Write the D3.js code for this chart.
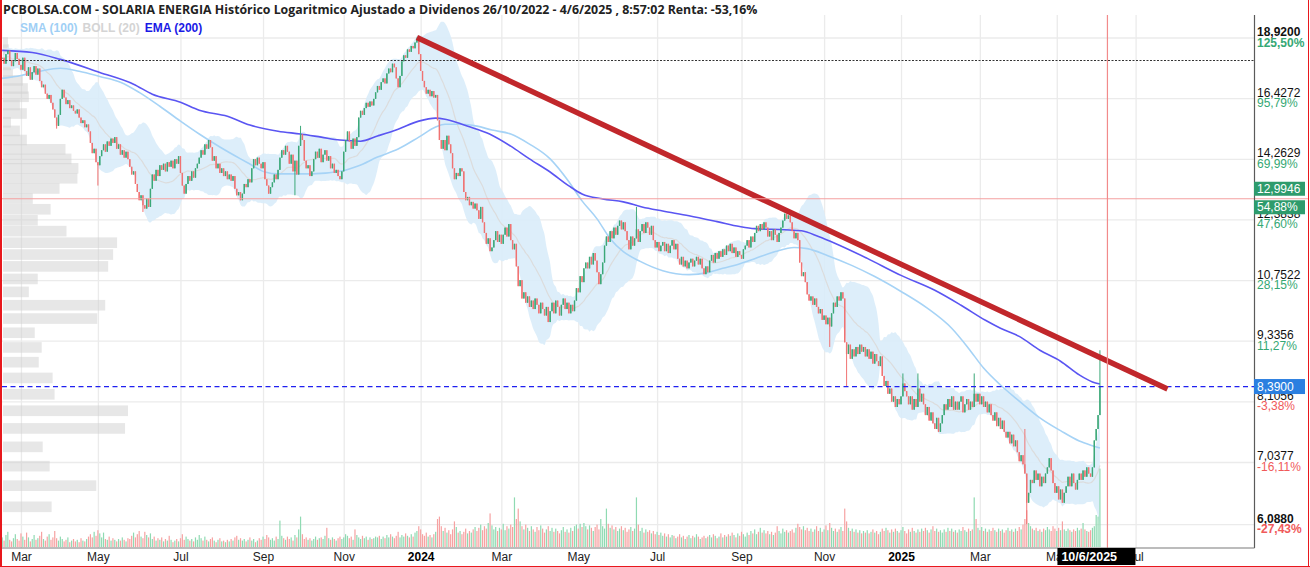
<!DOCTYPE html>
<html><head><meta charset="utf-8">
<script src="https://cdn.jsdelivr.net/npm/d3@7"></script>
<style>
html,body{margin:0;padding:0;background:#fff;}
svg{display:block;}
</style></head><body>
<svg id="c" width="1310" height="567"></svg>
<script>
// ---------------- DATA ----------------
const lastDate = '2025-06-04';
const closes = [
18.05,17.80,18.20,18.35,17.95,17.70,17.90,18.25,18.00,17.75,
17.55,18.05,17.50,17.30,17.65,17.15,17.45,17.70,17.35,17.60,
17.10,16.85,16.95,16.60,16.40,16.55,16.25,
16.00,15.70,15.40,15.80,
16.40,16.75,
16.45,16.20,16.35,16.05,16.15,15.95,15.85,16.00,15.70,
15.50,15.60,15.35,15.45,15.20,
14.80,14.45,14.60,14.15,14.05,14.35,
14.55,14.75,14.50,14.85,14.70,14.95,14.80,15.00,
14.60,14.75,14.40,14.55,14.30,14.50,14.25,
14.00,13.75,13.85,13.45,13.20,
12.95,13.10,12.80,12.70,13.00,12.75,
13.30,13.75,13.55,13.90,13.70,14.05,
13.90,14.10,13.85,14.15,14.00,14.20,13.95,14.25,14.10,14.35,
13.80,13.40,13.15,
13.45,13.70,13.55,13.85,13.65,13.95,14.10,
14.30,14.55,14.40,14.75,14.60,14.90,14.65,
14.20,14.35,13.95,14.10,13.80,13.95,13.70,
13.85,13.60,13.75,13.55,13.70,
13.30,13.10,13.20,12.95,13.15,
13.45,13.35,13.60,13.50,
13.95,14.25,14.05,14.30,14.10,13.95,14.15,
13.60,13.40,13.15,13.35,13.50,
13.75,13.60,13.90,
14.30,14.55,14.40,14.70,14.50,
14.10,14.40,13.85,14.20,13.75,
14.70,15.10,14.90,
14.20,13.95,14.05,13.70,13.85,
14.25,14.50,14.30,14.60,14.15,14.40,14.55,14.20,14.35,
13.95,14.10,13.80,13.90,13.70,13.60,13.85,
14.50,14.90,15.20,
14.85,14.60,14.95,14.70,15.00,
15.70,15.95,15.80,
16.05,16.25,16.10,16.30,16.15,16.40,
16.65,16.90,16.75,17.05,17.20,17.00,
17.40,17.60,17.45,17.80,17.65,
17.20,16.85,17.30,
17.90,18.15,18.05,18.40,18.30,
18.55,18.45,18.70,18.85,
18.20,17.50,17.10,
16.85,16.60,16.75,16.50,16.70,16.45,16.55,
15.60,14.90,14.60,
14.90,14.55,15.05,14.75,14.45,
13.95,13.60,13.80,
13.70,13.95,13.85,
13.20,12.95,13.05,12.80,12.90,12.70,12.85,12.65,
12.40,12.75,12.30,
12.00,11.70,11.85,11.50,11.60,
11.80,12.05,11.75,11.95,11.70,
11.95,12.15,11.90,12.25,
11.80,11.55,11.70,
11.10,10.60,10.75,10.30,
10.45,10.20,10.35,10.10,10.25,10.05,10.30,10.15,9.95,10.20,10.05,9.90,10.10,9.75,
10.00,10.20,9.95,10.25,10.10,9.90,10.15,10.30,10.05,10.20,9.95,10.15,10.00,10.25,
10.55,10.45,10.85,10.70,11.05,
11.20,11.05,11.35,11.15,11.45,11.25,
10.95,10.65,10.90,11.20,
11.65,11.90,11.75,12.05,11.85,12.15,11.95,
12.20,12.35,12.10,12.30,12.05,
11.80,11.55,11.90,11.65,11.85,
12.10,11.75,
12.05,12.25,12.00,12.30,12.15,11.95,12.20,
11.80,11.60,11.75,11.50,11.65,
11.75,11.50,11.70,11.45,11.65,11.80,11.55,11.70,
11.30,11.15,11.35,11.10,11.25,11.05,11.20,
11.30,11.10,11.25,11.35,11.15,11.30,
11.05,10.90,11.10,10.95,
11.25,11.40,11.20,11.45,11.30,11.50,11.35,
11.55,11.40,11.65,11.50,11.70,11.45,11.60,11.35,11.50,
11.40,11.30,11.55,
11.65,11.80,11.60,11.90,11.75,12.00,12.20,
12.05,12.25,12.10,12.30,12.15,
11.90,12.05,11.80,12.10,11.95,11.75,12.00,12.15,
12.35,12.55,12.40,12.50,12.30,
12.05,11.85,12.00,11.80,
11.20,10.85,10.95,10.70,
10.40,10.25,10.35,10.15,10.30,10.10,
9.95,10.05,9.80,9.90,9.70,9.85,9.65,
9.95,10.20,10.10,10.35,10.25,10.45,10.30,
9.30,9.05,
9.25,8.95,9.15,9.00,
9.20,9.05,9.25,9.10,9.20,9.00,9.15,
8.95,9.10,8.85,9.05,8.90,8.80,9.00,
8.60,8.40,8.50,8.25,8.35,
8.10,8.20,8.00,8.15,8.05,8.20,
8.45,8.30,8.20,
8.05,8.20,7.95,8.15,8.00,
8.35,8.10,8.25,8.05,
7.85,8.00,7.75,7.90,7.70,
7.60,7.80,7.55,7.70,7.85,
8.05,7.95,8.15,8.00,8.20,7.95,8.10,
7.95,8.10,8.20,7.90,8.05,8.15,7.95,8.10,8.00,
8.25,
8.10,8.25,8.05,8.20,8.00,
8.10,7.90,8.05,7.85,
7.75,7.90,7.65,7.80,7.60,7.75,7.55,
7.45,7.55,7.35,7.50,7.30,7.40,
7.20,7.05,7.15,7.00,
6.85,6.40,
6.55,6.75,6.70,6.90,6.75,6.85,6.65,6.80,6.70,6.85,
6.95,7.10,6.90,
6.70,6.55,6.65,6.45,6.60,6.40,6.55,6.65,
6.80,6.65,6.85,6.70,6.60,6.75,6.85,
6.75,6.90,6.80,6.95,6.85,6.80,6.95,
7.40,7.60,
7.85,
8.39];
// notable wicks: [bar index, high, low]
const wicks = [[29,null,15.30],[51,null,13.40],[75,null,12.60],[156,null,13.10],[159,15.40,null],
  [221,18.92,null],[338,12.75,null],[441,null,9.20],[450,null,8.40],[480,8.65,null],[488,8.65,null],
  [518,8.65,null],[545,7.60,null],[546,null,6.09],[585,9.13,null]];
// volume, millions
const volumes = [
1.2,0.8,1.5,1.9,0.9,0.7,1.1,1.6,1.0,0.8, 1.7,1.3,0.9,1.8,1.2,0.7,1.0,1.5,0.9,1.1, 1.4,1.9,1.0,0.8,1.3,1.6,0.9,1.2,2.0,1.1, 0.8,1.3,1.0,0.7,0.9,1.2,0.6,0.8,1.0,0.7, 0.9,0.6,1.1,0.8,0.7,1.0,1.3,1.6,1.2,1.9,
1.4,2.1,1.7,1.2,1.8,1.0,0.9,1.3,0.8,1.1, 0.9,0.7,1.0,0.8,1.2,0.9,0.7,1.1,1.0,1.4, 1.8,1.2,1.6,2.0,1.3,1.1,1.9,1.5,1.2,1.7, 1.0,1.3,0.8,1.1,0.9,1.2,0.7,1.0,0.8,1.4, 0.9,0.6,0.8,1.0,0.7,1.1,1.6,0.9,1.3,1.0,
0.8,1.0,0.7,1.2,0.9,1.5,1.1,0.8,1.3,0.9, 0.7,1.0,1.2,0.8,0.6,0.9,1.1,0.7,0.8,0.6, 0.9,0.7,1.0,0.8,1.2,1.4,0.9,1.1,0.8,1.0, 0.7,0.9,1.2,0.8,1.0,0.6,0.8,1.1,0.9,1.3, 1.0,1.5,1.2,0.9,1.1,0.8,1.3,1.0,3.3,1.4,
1.1,0.9,1.3,1.0,1.2,0.8,1.5,1.2,2.2,3.8, 1.6,1.0,1.2,0.9,1.1,0.8,1.0,1.3,0.9,1.1, 1.2,1.0,1.4,2.4,1.1,0.9,1.2,1.0,0.8,1.1, 1.3,1.0,1.2,1.6,1.4,1.1,1.3,0.9,2.2,1.5, 1.2,1.0,1.4,1.1,1.3,0.9,1.2,1.0,1.1,1.3,
1.2,1.4,1.0,1.3,1.1,1.5,1.2,1.6,1.3,1.1, 1.4,1.9,1.2,1.5,1.3,1.7,1.4,1.2,1.6,1.3, 1.8,2.0,2.6,2.2,1.6,1.4,1.8,1.3,1.5,1.2, 1.6,1.9,3.5,3.8,2.6,2.0,2.4,1.8,2.1,1.6, 2.2,3.2,2.5,1.8,2.0,1.6,1.9,2.3,1.7,2.0,
1.8,2.2,2.5,2.0,2.4,2.8,2.1,2.6,2.3,3.0, 4.2,2.7,2.2,2.5,2.0,2.4,2.2,2.9,2.1,2.6, 2.3,2.8,2.5,6.2,3.5,4.8,3.2,2.6,2.2,2.8, 2.4,2.0,2.6,2.2,1.9,2.5,2.1,2.7,2.3,1.8, 2.2,2.6,2.0,2.4,1.9,2.3,2.0,1.7,2.1,2.5,
1.9,2.2,1.8,2.4,2.0,2.6,2.8,2.3,2.9,2.5, 3.0,2.6,2.2,2.7,2.4,2.0,2.5,2.8,2.2,3.5, 2.6,2.3,4.8,2.9,2.4,2.7,2.2,2.5,2.0,2.3, 2.6,2.1,2.4,1.9,2.2,2.5,2.0,2.3,6.2,2.8, 2.0,2.4,1.8,2.2,1.9,2.1,1.7,2.0,1.6,1.9,
1.5,1.8,1.4,1.7,1.3,1.6,1.2,1.5,1.4,1.1, 1.3,1.6,1.2,1.4,1.0,1.3,1.5,1.1,1.4,1.2, 1.6,1.3,1.0,1.2,1.4,1.1,1.3,1.5,1.2,1.6, 1.4,1.1,1.3,1.7,1.2,1.5,1.3,1.6,1.4,1.8, 1.5,1.2,1.7,1.4,1.9,1.6,1.3,1.8,1.5,2.0,
1.7,2.2,1.6,1.9,2.4,1.8,2.1,1.7,2.0,1.6, 1.9,1.5,1.8,2.6,2.0,1.7,2.3,1.9,2.1,1.8, 2.0,2.2,1.8,2.4,2.9,2.5,2.2,2.6,2.1,2.4, 2.0,2.3,1.9,2.2,2.6,2.0,2.4,1.9,2.2,2.7, 2.1,3.0,2.4,2.0,2.3,1.9,2.2,2.5,2.0,4.8,
3.2,2.4,2.0,2.3,1.9,2.2,1.8,2.1,1.7,2.0, 1.8,2.1,1.7,1.9,2.2,1.8,2.0,1.6,1.9,2.3, 2.0,2.4,2.1,1.8,2.2,1.9,2.3,2.0,1.8,2.1, 2.5,2.0,1.7,2.2,1.9,2.4,2.0,1.8,2.2,1.9, 2.3,2.0,2.4,2.1,1.8,2.2,2.6,2.0,2.3,1.9,
2.1,1.8,2.2,1.9,2.4,2.0,2.3,1.9,2.1,1.8, 2.2,2.0,2.5,2.1,1.9,2.3,2.0,2.2,6.2,3.5, 2.4,2.1,2.5,2.0,2.3,1.9,2.2,2.0,2.4,2.1, 1.9,2.3,2.0,2.2,1.8,2.1,2.4,2.0,2.2,1.9, 2.3,2.0,2.5,2.2,2.8,3.5,4.6,3.0,2.6,2.3,
2.1,2.4,2.0,2.2,1.9,2.3,2.1,2.5,2.2,2.0, 2.6,2.3,2.0,2.4,2.1,3.2,2.2,2.0,2.3,2.1, 1.9,2.2,2.0,2.4,2.1,2.3,3.0,2.2,2.0,1.9, 2.1,2.4,2.6,4.0,3.8,9.8];
// SMA(100) and EMA(200): [bar index], [value]
const smaIdx = [0,10,20,31,41,52,63,73,84,95,105,116,127,132,140,147,165,181,190,200,211,222,231,236,245,253,261,271,281,292,302,309,317,324,331,340,352,366,376,384,392,401,412,422,429,440,453,465,479,493,506,515,523,532,542,553,564,574,581,585];
const smaVal = [17.20,17.32,17.49,17.61,17.49,17.28,17.05,16.65,16.12,15.57,15.11,14.66,14.26,14.09,13.83,13.77,13.77,13.86,14.03,14.32,14.59,15.00,15.36,15.46,15.46,15.39,15.25,15.11,14.76,14.26,13.52,12.93,12.40,11.84,11.49,11.23,10.99,10.89,10.94,11.05,11.15,11.30,11.49,11.60,11.57,11.38,11.12,10.84,10.47,10.07,9.61,9.17,8.76,8.42,8.11,7.80,7.57,7.39,7.31,7.27];
const emaIdx = [0,16,31,52,70,80,95,105,120,132,147,159,170,180,191,200,211,222,231,236,245,253,261,271,281,292,302,309,320,331,341,352,366,381,393,401,417,426,435,444,461,479,497,511,524,532,542,553,564,574,581,585];
const emaVal = [18.36,18.27,17.98,17.44,16.97,16.58,16.27,15.97,15.75,15.43,15.21,15.11,15.00,14.90,14.86,15.04,15.28,15.57,15.68,15.64,15.46,15.28,15.07,14.69,14.26,13.83,13.39,13.14,12.99,12.90,12.75,12.63,12.49,12.32,12.18,12.12,12.09,12.06,11.90,11.71,11.31,10.87,10.50,10.14,9.79,9.61,9.43,9.13,8.90,8.62,8.48,8.44];
// volume profile: price bins and relative volume
const profilePrice = [6.34,6.66,6.97,7.29,7.61,7.93,8.24,8.56,8.88,9.19,9.51,9.83,10.14,10.46,10.78,11.10,11.41,11.73,12.05,12.36,12.68,13.00,13.31,13.63,13.95,14.26,14.58,14.90,15.22,15.53,15.85,16.17,16.48,16.80,17.12,17.43,17.75,18.07,18.39,18.70];
const profileVol   = [49,94,47,40,123,126,52,50,36,39,32,95,103,26,35,106,111,115,64,35,48,30,57,75,76,69,63,24,17,8,24,17,26,25,20,10,8,12,6,5];
// axis
const yTicks = [18.92,16.4272,14.2629,12.3838,10.7522,9.3356,8.1056,7.0377,6.088];
const yTickLabels = ['18,9200','16,4272','14,2629','12,3838','10,7522','9,3356','8,1056','7,0377','6,0880'];
const yPctLabels = ['125,50%','95,79%','69,99%','47,60%','28,15%','11,27%','-3,38%','-16,11%','-27,43%'];
const monthKeys = ['2023-03','2023-05','2023-07','2023-09','2023-11','2024-01','2024-03','2024-05','2024-07','2024-09','2024-11','2025-01','2025-03','2025-05','2025-07'];
const monthLabels = ['Mar','May','Jul','Sep','Nov','2024','Mar','May','Jul','Sep','Nov','2025','Mar','May','Jul'];
const holidays = ['2023-04-07','2023-04-10','2023-05-01','2023-12-25','2023-12-26','2024-01-01','2024-03-29','2024-04-01','2024-05-01','2024-12-25','2024-12-26','2025-01-01','2025-04-18','2025-04-21','2025-05-01'];
// levels / annotations
const lastPrice = 8.39, lastPriceLabel = '8,3900';
const maxLevel = 17.94;
const cursorPrice = 12.9946, cursorPriceLabel = '12,9946', cursorPctLabel = '54,88%';
const cursorDate = '2025-06-10', cursorDateLabel = '10/6/2025';
const trendDates = ['2023-12-28','2025-07-24'], trendPrices = [18.92, 8.34];
const titleText = 'PCBOLSA.COM - SOLARIA ENERGIA Histórico Logaritmico Ajustado a Dividenos 26/10/2022 - 4/6/2025 , 8:57:02 Renta: -53,16%';
const legendItems = ['SMA (100)','BOLL (20)','EMA (200)'];

// ---------------- CHART ----------------
const FONT = "'Liberation Sans', Arial, sans-serif";
const P = {left:2, right:1254.5, top:15, bottom:548};
const svg = d3.select('#c');
svg.append('rect').attr('width',1310).attr('height',567).attr('fill','#fff');

const hol = new Set(holidays);
const days = [];
for (let t = Date.UTC(2022,9,26); t <= Date.UTC(2025,9,31); t += 86400000) {
  const d = new Date(t), wd = d.getUTCDay(), s = d.toISOString().slice(0,10);
  if (wd !== 0 && wd !== 6 && !hol.has(s)) days.push(s);
}
const first = days.indexOf(lastDate) - closes.length + 1;
const di = s => days.indexOf(s) - first;
const firstOfMonth = k => days.findIndex(s => s.startsWith(k)) - first;

const x = d3.scaleLinear().domain([0, 667]).range([2.2, 1253.8]);
const y = d3.scaleLog().domain([6.088, 18.92]).range([524.2, 37.5]);
const yv = d3.scaleLinear().domain([0, 10]).range([547, 467]);
const pw = d3.scaleLinear().domain([0, d3.max(profileVol)]).range([0, 125]);
const crisp = v => Math.round(v) + 0.5;

const defs = svg.append('defs');
defs.append('clipPath').attr('id','clip').append('rect')
  .attr('x',P.left).attr('y',P.top).attr('width',P.right-P.left).attr('height',P.bottom-P.top);

// grid
const monthIdx = monthKeys.map(firstOfMonth);
const gGrid = svg.append('g');
gGrid.append('g').attr('transform',`translate(${P.right},0)`)
  .call(d3.axisLeft(y).tickValues(yTicks).tickSize(P.right-P.left).tickFormat(''))
  .call(g=>{g.select('.domain').remove(); g.selectAll('line').attr('stroke','#ebebeb').attr('stroke-width',1.3);});
gGrid.append('g').attr('transform',`translate(0,${P.bottom})`)
  .call(d3.axisTop(x).tickValues(monthIdx).tickSize(P.bottom-P.top).tickFormat(''))
  .call(g=>{g.select('.domain').remove(); g.selectAll('line').attr('stroke','#ebebeb').attr('stroke-width',1.3);});

const plot = svg.append('g').attr('clip-path','url(#clip)');

// volume profile
plot.append('g').selectAll('rect').data(profilePrice).join('rect')
  .attr('x', 3).attr('y', d => y(d) - 5.3).attr('height', 10.6)
  .attr('width', (d,i) => pw(profileVol[i]))
  .attr('fill', '#cfcfcf').attr('fill-opacity', 0.5);

// bollinger
const boll = closes.map((c,i) => {
  const w = closes.slice(Math.max(0,i-19), i+1);
  const m = d3.mean(w);
  const sd = Math.sqrt(d3.mean(w, v => (v-m)*(v-m)));
  return {i, m, hi: m + 2*sd, lo: m - 2*sd};
}).slice(1);
plot.append('path').datum(boll)
  .attr('d', d3.area().x(d=>x(d.i)).y0(d=>y(d.lo)).y1(d=>y(d.hi)).curve(d3.curveMonotoneX))
  .attr('fill', '#d9ecfa').attr('fill-opacity', 0.9);
plot.append('path').datum(boll)
  .attr('d', d3.line().x(d=>x(d.i)).y(d=>y(d.m)).curve(d3.curveMonotoneX))
  .attr('fill','none').attr('stroke','#dcdcdc').attr('stroke-width',1.2);

// sma / ema
plot.append('path').datum(smaIdx.map((d,i)=>[d,smaVal[i]]))
  .attr('d', d3.line().x(d=>x(d[0])).y(d=>y(d[1])).curve(d3.curveMonotoneX))
  .attr('fill','none').attr('stroke','#a6d3f6').attr('stroke-width',1.6);
plot.append('path').datum(emaIdx.map((d,i)=>[d,emaVal[i]]))
  .attr('d', d3.line().x(d=>x(d[0])).y(d=>y(d[1])).curve(d3.curveMonotoneX))
  .attr('fill','none').attr('stroke','#5a55f2').attr('stroke-width',1.6);

// bars data
const wk = new Map(wicks.map(w => [w[0], w]));
const bars = closes.map((c,i) => {
  const o = i > 0 ? closes[i-1] : c;
  let h = Math.max(o,c), l = Math.min(o,c);
  if (wk.has(i)) { const w = wk.get(i); if (w[1] != null) h = w[1]; if (w[2] != null) l = w[2]; }
  return {i, o, c, h, l, up: c >= o, v: volumes[i]};
});

// volume bars
plot.append('g').selectAll('rect').data(bars).join('rect')
  .attr('x', d => x(d.i) - 0.6).attr('width', 1.2)
  .attr('y', d => yv(d.v)).attr('height', d => yv(0) - yv(d.v))
  .attr('fill', d => d.up ? '#8fdab2' : '#f6a2a2');

// candles
const gc = plot.append('g');
gc.selectAll('line').data(bars).join('line')
  .attr('x1', d => x(d.i)).attr('x2', d => x(d.i))
  .attr('y1', d => y(d.h)).attr('y2', d => y(d.l))
  .attr('stroke', d => d.up ? '#3ba878' : '#f07272').attr('stroke-width', 1);
gc.selectAll('rect').data(bars).join('rect')
  .attr('x', d => x(d.i) - 0.7).attr('width', 1.4)
  .attr('y', d => y(Math.max(d.o,d.c)))
  .attr('height', d => Math.max(1, y(Math.min(d.o,d.c)) - y(Math.max(d.o,d.c))))
  .attr('fill', d => d.up ? '#3ba878' : '#f07272');

// level lines
plot.append('line').attr('x1',P.left).attr('x2',P.right).attr('y1',crisp(y(maxLevel))).attr('y2',crisp(y(maxLevel)))
  .attr('stroke','#333').attr('stroke-width',1).attr('stroke-dasharray','2,1.5');
plot.append('line').attr('x1',P.left).attr('x2',P.right).attr('y1',y(lastPrice)).attr('y2',y(lastPrice))
  .attr('stroke','#2020f0').attr('stroke-width',1.3).attr('stroke-dasharray','5,3.5');
svg.append('line').attr('x1',P.left).attr('x2',1308).attr('y1',y(cursorPrice)).attr('y2',y(cursorPrice))
  .attr('stroke','#f4a0a0').attr('stroke-width',1.2);

// trend line
plot.append('line')
  .attr('x1', x(di(trendDates[0]))).attr('y1', y(trendPrices[0]))
  .attr('x2', x(di(trendDates[1]))).attr('y2', y(trendPrices[1]))
  .attr('stroke','#c1272b').attr('stroke-width',5.5);

// crosshair vertical
const cx = x(di(cursorDate));
svg.append('line').attr('x1',cx).attr('x2',cx).attr('y1',P.top).attr('y2',P.bottom)
  .attr('stroke','#f28b8b').attr('stroke-width',1.2);

// axes lines
svg.append('line').attr('x1',P.right).attr('x2',P.right).attr('y1',P.top).attr('y2',P.bottom).attr('stroke','#5a5a5a').attr('stroke-width',1.2);
svg.append('line').attr('x1',P.left).attr('x2',P.right).attr('y1',P.bottom).attr('y2',P.bottom).attr('stroke','#7a7a7a').attr('stroke-width',1.2);

// right axis labels (two-line: price + percent)
const gy = svg.append('g').attr('font-family',FONT).attr('font-size',12);
yTicks.forEach((v,i) => {
  const bold = (i===0 || i===yTicks.length-1) ? 'bold' : 'normal';
  const tx = gy.append('text').attr('x',1257).attr('y',y(v)-1.5).attr('font-weight',bold);
  tx.append('tspan').attr('x',1257).attr('fill','#111').text(yTickLabels[i]);
  tx.append('tspan').attr('x',1257).attr('dy',10.5)
    .attr('fill', yPctLabels[i].startsWith('-') ? '#f05a5a' : '#35a874').text(yPctLabels[i]);
});
// right boxes
function box(yTop, h, fill, txt){
  svg.append('rect').attr('x',1254).attr('y',yTop).attr('width',51).attr('height',h).attr('fill',fill);
  svg.append('text').attr('x',1257).attr('y',yTop+h-3).attr('fill','#fff').attr('font-family',FONT).attr('font-size',12).text(txt);
}
box(y(cursorPrice)-17, 14, '#2e9b6c', cursorPriceLabel);
box(y(cursorPrice)+1.5, 14, '#2e9b6c', cursorPctLabel);
box(y(lastPrice)-7.5, 15, '#2b7fe0', lastPriceLabel);

// bottom axis labels
const gx = svg.append('g').attr('transform',`translate(0,${P.bottom})`)
  .call(d3.axisBottom(x).tickValues(monthIdx).tickSize(0).tickPadding(4).tickFormat((d,i)=>monthLabels[i]));
gx.select('.domain').remove();
gx.selectAll('text').attr('font-family',FONT).attr('font-size',12)
  .attr('font-weight',(d,i)=>/^\d/.test(monthLabels[i])?'bold':'normal')
  .attr('fill',(d,i)=>/^\d/.test(monthLabels[i])?'#000':'#222');
// date box
svg.append('rect').attr('x',cx-50).attr('y',P.bottom).attr('width',78).attr('height',17).attr('fill','#000');
svg.append('text').attr('x',cx-46).attr('y',P.bottom+13).attr('fill','#fff').attr('font-family',FONT)
  .attr('font-size',12.5).attr('font-weight','bold').text(cursorDateLabel);

// title
const t = svg.append('text').attr('x',3).attr('y',14).attr('font-family',"'Open Sans', sans-serif")
  .attr('font-weight','bold').attr('font-size',12).attr('fill','#222').text(titleText);
const tw = t.node().getComputedTextLength();
t.attr('font-size', 12 * 755 / tw);

// legend
const legendColors = ['#9fcff5','#d4d4d4','#1a1ae6'];
let lx = 20;
legendItems.forEach((s,i) => {
  const tt = svg.append('text').attr('x',lx).attr('y',32).attr('font-family',FONT).attr('font-size',12)
    .attr('font-weight','bold').attr('fill',legendColors[i]).text(s);
  lx += tt.node().getComputedTextLength() + 5;
});

// frame
svg.append('rect').attr('x',0).attr('y',0).attr('width',2).attr('height',567).attr('fill','#e8181d');
svg.append('line').attr('x1',1308.5).attr('x2',1308.5).attr('y1',0).attr('y2',567).attr('stroke','#e8181d');
svg.append('line').attr('x1',0).attr('x2',1310).attr('y1',566.5).attr('y2',566.5).attr('stroke','#e8181d');
</script>
</body></html>
